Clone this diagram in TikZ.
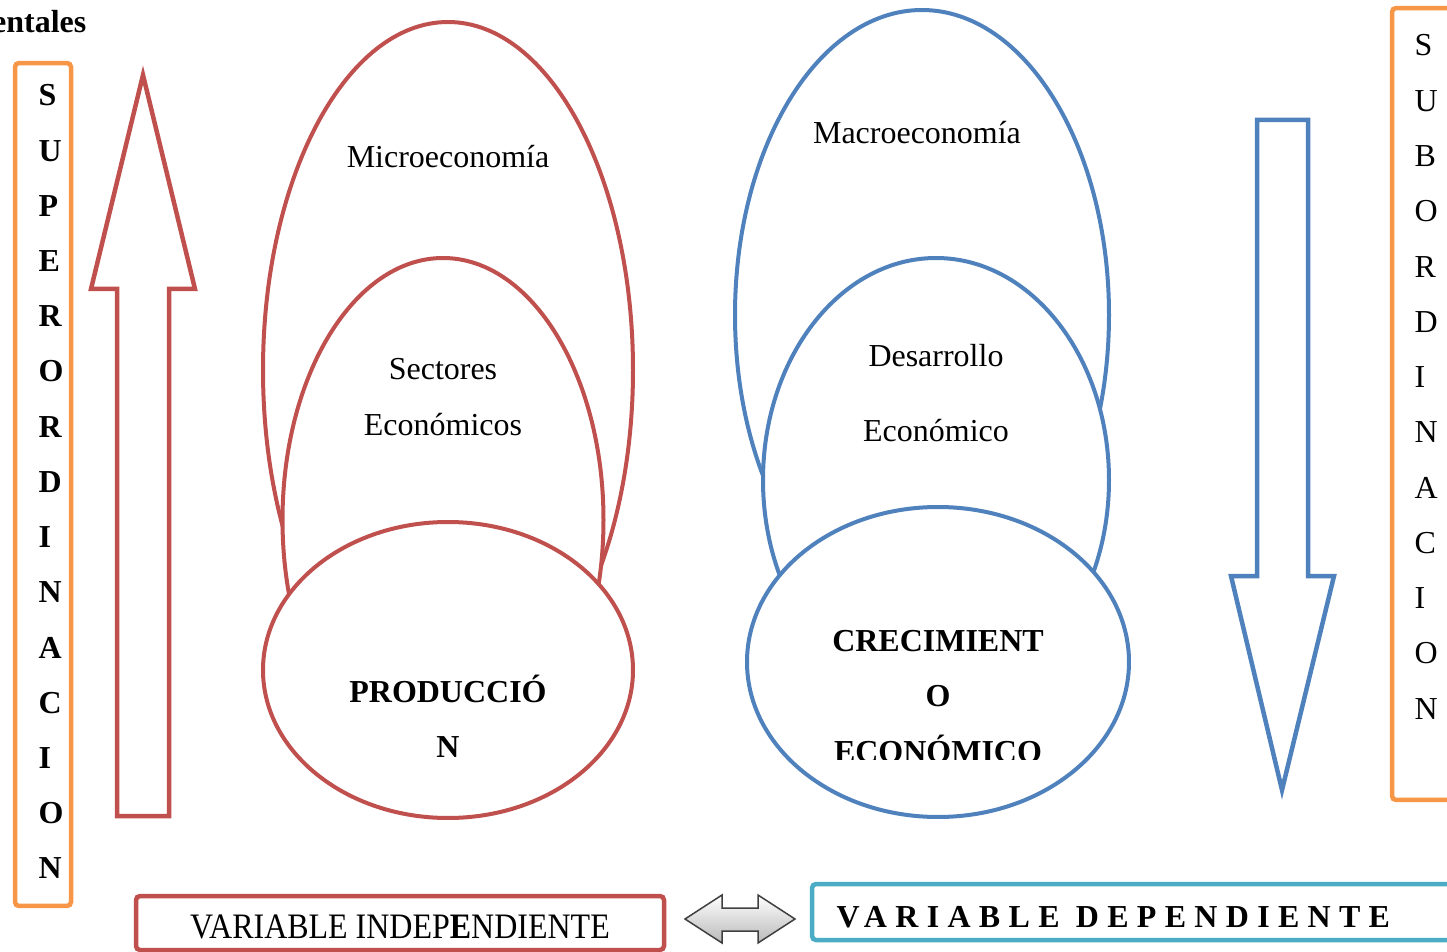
\documentclass[tikz,border=0pt]{standalone}
\usepackage{fontspec}
\setmainfont{Liberation Serif}
\usetikzlibrary{shapes.geometric}
\definecolor{cred}{HTML}{C0504D}
\definecolor{cblue}{HTML}{4F81BD}
\definecolor{corange}{HTML}{F79646}
\definecolor{ccyan}{HTML}{4BACC6}
\begin{document}
\begin{tikzpicture}[x=0.1mm,y=-0.1mm,
  txt/.style={inner sep=0pt,anchor=base,font=\fontsize{9.1}{11}\selectfont},
  btxt/.style={txt,font=\fontsize{9.1}{11}\selectfont\bfseries},
  oval/.style={ellipse,draw,line width=0.4mm,fill=white,inner sep=0pt},
  frame/.style={rectangle,draw,line width=0.45mm,rounded corners=0.4mm,inner sep=0pt},
  bigarrow/.style={draw,line width=0.45mm,fill=white,line join=miter}]
\useasboundingbox (0,0) rectangle (1447,952);
\clip (0,0) rectangle (1447,952);

% title fragment
\node[btxt,anchor=base east] (title) at (87,33) {entales};

% left vertical box
\node[frame,draw=corange,minimum width=5.6mm,minimum height=84.3mm] (lbox) at (43,484.5) {};
\foreach \l [count=\i from 0] in {S,U,P,E,R,O,R,D,I,N,A,C,I,O,N}
  \node[btxt,anchor=base west] (ll\i) at (38,106+55.2*\i) {\l};

% right vertical box
\node[frame,draw=corange,minimum width=6.8mm,minimum height=79.2mm] (rbox) at (1426,404) {};
\foreach \l [count=\i from 0] in {S,U,B,O,R,D,I,N,A,C,I,O,N}
  \node[txt,anchor=base west] (rl\i) at (1414,56+55.25*\i) {\l};

% up arrow (red)
\draw[bigarrow,draw=cred] (117,816) -- (117,289) -- (91,289) -- (143,75) -- (195,289) -- (169,289) -- (169,816) -- cycle;

% down arrow (blue)
\draw[bigarrow,draw=cblue] (1257,120) -- (1308,120) -- (1308,576) -- (1334,576) -- (1282,790) -- (1231,576) -- (1257,576) -- cycle;

% red ellipses
\node[oval,draw=cred,minimum width=37mm,minimum height=69.6mm] (micro) at (448,370) {};
\node[oval,draw=cred,minimum width=32.1mm,minimum height=52.4mm] (sect) at (443,520) {};
\node[oval,draw=cred,minimum width=37mm,minimum height=29.6mm] (prod) at (448,670) {};
\node[txt] (tmicro) at (448,168) {Microeconomía};
\node[txt] (tsect1) at (443,379) {Sectores};
\node[txt] (tsect2) at (443,436) {Económicos};
\node[btxt] (tprod1) at (448,702) {PRODUCCIÓ};
\node[btxt] (tprod2) at (448,757) {N};

% blue ellipses
\node[oval,draw=cblue,minimum width=37.4mm,minimum height=61mm] (macro) at (922,315) {};
\node[oval,draw=cblue,minimum width=34.6mm,minimum height=44.4mm] (desa) at (936,480) {};
\node[oval,draw=cblue,minimum width=38.2mm,minimum height=31mm] (crec) at (938,662) {};
\node[txt] (tmacro) at (917,144) {Macroeconomía};
\node[txt] (tdesa1) at (936,367) {Desarrollo};
\node[txt] (tdesa2) at (936,441) {Económico};
\node[btxt] (tcrec1) at (938,651) {CRECIMIENT};
\node[btxt] (tcrec2) at (938,706) {O};
\begin{scope}
  \clip (800,700) rectangle (1100,759);
  \node[btxt] (tcrec3) at (938,762) {ECONÓMICO};
\end{scope}

% bottom boxes
\node[frame,draw=cred,minimum width=52.8mm,minimum height=5.4mm] (vind) at (400,923) {};
\node[txt,yscale=1.12] (tvind) at (400,938) {VARIABLE INDEP\textbf{E}NDIENTE};
\node[frame,draw=ccyan,minimum width=64.8mm,minimum height=5.6mm] (vdep) at (1136,912) {};
\node[btxt,anchor=base west] (tvdep) at (836,927) {\addfontfeature{LetterSpace=26}VARIABLE DEPENDIENTE};

% double arrow
\path[top color=white,bottom color=gray!55,draw=gray!50!black,line width=0.15mm,line join=miter]
  (685,919) -- (722,895) -- (722,908) -- (758,908) -- (758,895) -- (795,919) -- (758,943) -- (758,931) -- (722,931) -- (722,943) -- cycle;
\end{tikzpicture}
\end{document}
